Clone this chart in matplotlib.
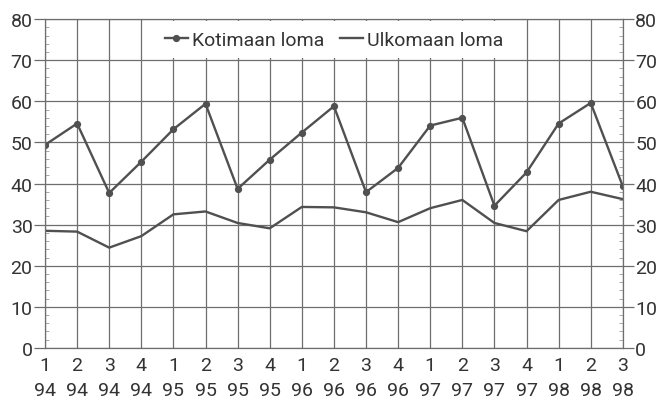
import matplotlib.pyplot as plt
from matplotlib.ticker import MultipleLocator

plt.rcParams['font.family'] = ['Liberation Sans Narrow', 'Roboto', 'DejaVu Sans']

quarters = ['1', '2', '3', '4', '1', '2', '3', '4', '1', '2', '3', '4',
            '1', '2', '3', '4', '1', '2', '3']
years = ['94', '94', '94', '94', '95', '95', '95', '95', '96', '96', '96', '96',
         '97', '97', '97', '97', '98', '98', '98']
kotimaan = [49.4, 54.6, 37.7, 45.3, 53.2, 59.4, 38.7, 45.8, 52.4, 58.8,
            37.9, 43.8, 54.1, 56.0, 34.6, 42.7, 54.6, 59.6, 39.3]
ulkomaan = [28.5, 28.3, 24.4, 27.2, 32.5, 33.2, 30.4, 29.1, 34.3, 34.2,
            33.0, 30.6, 34.0, 36.0, 30.4, 28.4, 36.0, 38.0, 36.2]

line_col = '#505050'
grid_col = '#6e6e6e'
text_col = '#333333'

fig = plt.figure(figsize=(6.57, 4.02), dpi=100)
ax = fig.add_axes([0.0685, 0.132, 0.8795, 0.818])
x = list(range(len(quarters)))

ax.plot(x, kotimaan, color=line_col, lw=1.7, marker='o', ms=4.2, label='Kotimaan loma')
ax.plot(x, ulkomaan, color=line_col, lw=1.7, label='Ulkomaan loma')

ax.set_xlim(0, len(quarters) - 1)
ax.set_ylim(0, 80)
ax.set_xticks(x)
ax.set_xticklabels([f'{q}\n{y}' for q, y in zip(quarters, years)], linespacing=1.45)
ax.yaxis.set_major_locator(MultipleLocator(10))
ax.yaxis.set_minor_locator(MultipleLocator(2))
ax.grid(True, which='major', color=grid_col, lw=0.9)
ax.set_axisbelow(True)

for s in ax.spines.values():
    s.set_color(grid_col)
    s.set_linewidth(0.9)

ax.tick_params(axis='x', length=0, pad=6, labelsize=14, labelcolor=text_col)
ax.tick_params(axis='y', which='major', direction='out', length=8, width=0.9,
               color=grid_col, labelsize=14, labelcolor=text_col,
               left=True, right=True, labelleft=True, labelright=True, pad=1)
ax.tick_params(axis='y', which='minor', direction='in', length=3, width=0.6,
               color='#999999', left=True, right=True)

leg = ax.legend(loc='upper center', bbox_to_anchor=(0.5, 1.0), ncol=2,
                borderaxespad=0.1, frameon=True, fancybox=False, edgecolor='none',
                facecolor='white', framealpha=1, fontsize=14, handlelength=1.2,
                handletextpad=0.2, columnspacing=0.8, borderpad=0.5)
for t in leg.get_texts():
    t.set_color(text_col)

fig.savefig('out.png', dpi=100)
